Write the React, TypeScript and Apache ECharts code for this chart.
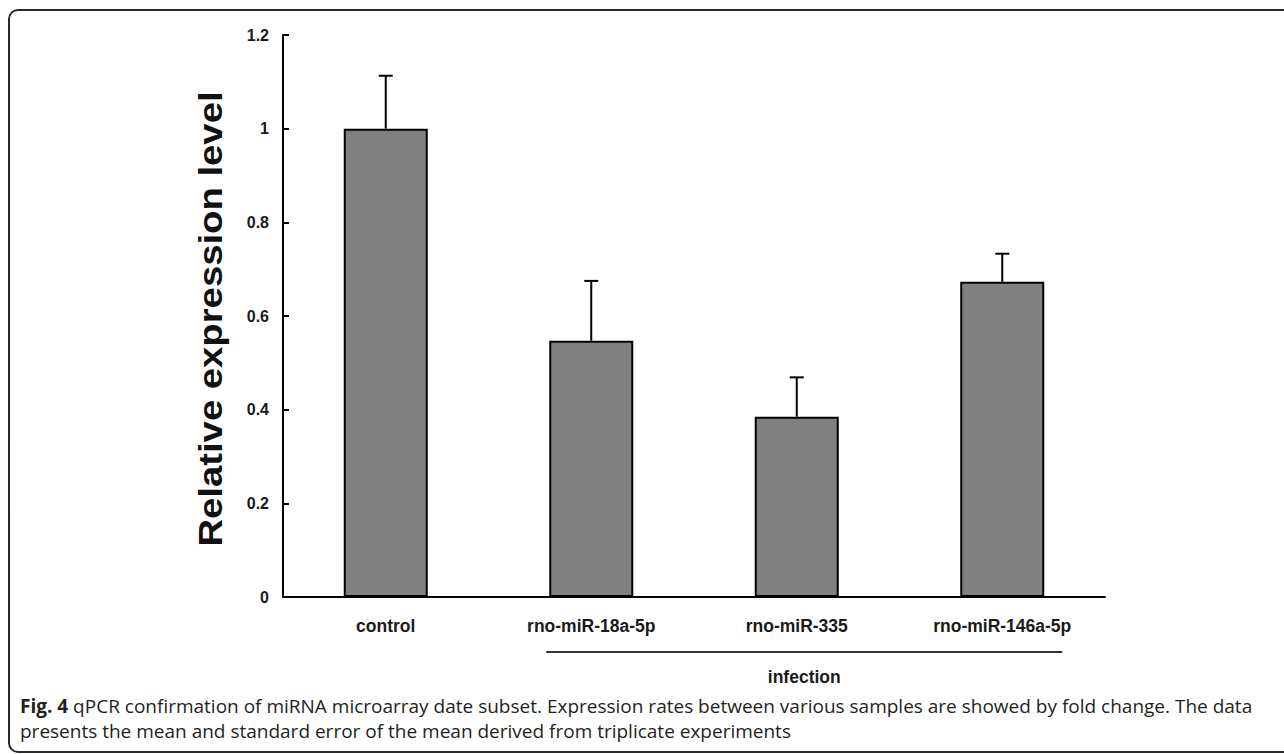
import React, { useEffect, useRef } from "react";
import * as echarts from "echarts";

const categories = ["control", "rno-miR-18a-5p", "rno-miR-335", "rno-miR-146a-5p"];
const means = [1.0, 0.547, 0.385, 0.673];
const sems = [0.113, 0.128, 0.084, 0.06];
const yMin = 0;
const yMax = 1.2;
const yInterval = 0.2;
const yAxisTitle = "Relative expression level";
const groupLabel = "infection";
const groupFrom = "rno-miR-18a-5p";
const groupTo = "rno-miR-146a-5p";
const captionBold = "Fig. 4";
const captionLine1 =
  " qPCR confirmation of miRNA microarray date subset. Expression rates between various samples are showed by fold change. The data";
const captionLine2 =
  "presents the mean and standard error of the mean derived from triplicate experiments";

const FONT = "'Liberation Sans', Arial, sans-serif";
const CAP_FONT = "'Open Sans', sans-serif";

export default function App() {
  const ref = useRef<HTMLDivElement>(null);

  useEffect(() => {
    document.body.style.margin = "0";
    if (!ref.current) return;
    const chart = echarts.init(ref.current, null, { renderer: "svg" });

    const errData = means.map((m, i) => [i, m, m + sems[i]]);

    chart.setOption({
      animation: false,
      backgroundColor: "#ffffff",
      grid: { left: 283, top: 35, right: 179, bottom: 157, containLabel: false },
      xAxis: {
        type: "category",
        data: categories,
        boundaryGap: true,
        axisLine: { lineStyle: { color: "#000", width: 2 } },
        axisTick: { inside: true, length: 5, lineStyle: { color: "#000", width: 2 } },
        axisLabel: {
          color: "#1a1a1a",
          fontFamily: FONT,
          fontWeight: "bold",
          fontSize: 17.5,
          margin: 20,
        },
        splitLine: { show: false },
      },
      yAxis: {
        type: "value",
        min: yMin,
        max: yMax,
        interval: yInterval,
        axisLine: { show: true, lineStyle: { color: "#000", width: 2 } },
        axisTick: { show: true, inside: true, length: 6, lineStyle: { color: "#000", width: 2 } },
        axisLabel: {
          color: "#1a1a1a",
          fontFamily: FONT,
          fontWeight: "bold",
          fontSize: 16,
          margin: 14,
        },
        splitLine: { show: false },
      },
      series: [
        {
          type: "bar",
          data: means,
          barWidth: 84,
          itemStyle: { color: "#808080", borderColor: "#000", borderWidth: 2 },
          z: 2,
        },
        {
          type: "custom",
          data: errData,
          z: 3,
          renderItem: (params: any, api: any) => {
            const x = api.value(0);
            const base = api.coord([x, api.value(1)]);
            const top = api.coord([x, api.value(2)]);
            const half = 7;
            return {
              type: "group",
              children: [
                {
                  type: "line",
                  shape: { x1: base[0], y1: base[1], x2: top[0], y2: top[1] },
                  style: { stroke: "#000", lineWidth: 2 },
                },
                {
                  type: "line",
                  shape: { x1: top[0] - half, y1: top[1], x2: top[0] + half, y2: top[1] },
                  style: { stroke: "#000", lineWidth: 2 },
                },
              ],
            };
          },
        },
      ],
    });

    const pFrom = chart.convertToPixel({ xAxisIndex: 0 }, groupFrom) as number;
    const pTo = chart.convertToPixel({ xAxisIndex: 0 }, groupTo) as number;
    const x1 = pFrom - 45;
    const x2 = pTo + 60;

    chart.setOption({
      graphic: [
        {
          type: "rect",
          shape: { x: 9, y: 10, width: 1290, height: 742, r: 9 },
          style: { fill: "none", stroke: "#2a2a2a", lineWidth: 2 },
          silent: true,
        },
        {
          type: "text",
          x: 211,
          y: 319,
          rotation: Math.PI / 2,
          scaleX: 1.16,
          style: {
            text: yAxisTitle,
            fontFamily: FONT,
            fontWeight: "bold",
            fontSize: 33,
            fill: "#111",
            align: "center",
            verticalAlign: "middle",
          },
        },
        {
          type: "line",
          shape: { x1, y1: 652, x2, y2: 652 },
          style: { stroke: "#333", lineWidth: 2 },
        },
        {
          type: "text",
          x: (x1 + x2) / 2,
          y: 677,
          style: {
            text: groupLabel,
            fontFamily: FONT,
            fontWeight: "bold",
            fontSize: 17.5,
            fill: "#1a1a1a",
            align: "center",
            verticalAlign: "middle",
          },
        },
        {
          type: "text",
          x: 20,
          y: 706,
          style: {
            text: "{b|" + captionBold + "}" + captionLine1,
            fontFamily: CAP_FONT,
            fontSize: 19,
            fill: "#231f20",
            align: "left",
            verticalAlign: "middle",
            rich: {
              b: { fontWeight: "bold", fontFamily: CAP_FONT, fontSize: 19, fill: "#231f20" },
            },
          },
        },
        {
          type: "text",
          x: 20,
          y: 731,
          style: {
            text: captionLine2,
            fontFamily: CAP_FONT,
            fontSize: 19,
            fill: "#231f20",
            align: "left",
            verticalAlign: "middle",
          },
        },
      ],
    });

    return () => chart.dispose();
  }, []);

  return <div ref={ref} style={{ width: 1284, height: 754 }} />;
}
